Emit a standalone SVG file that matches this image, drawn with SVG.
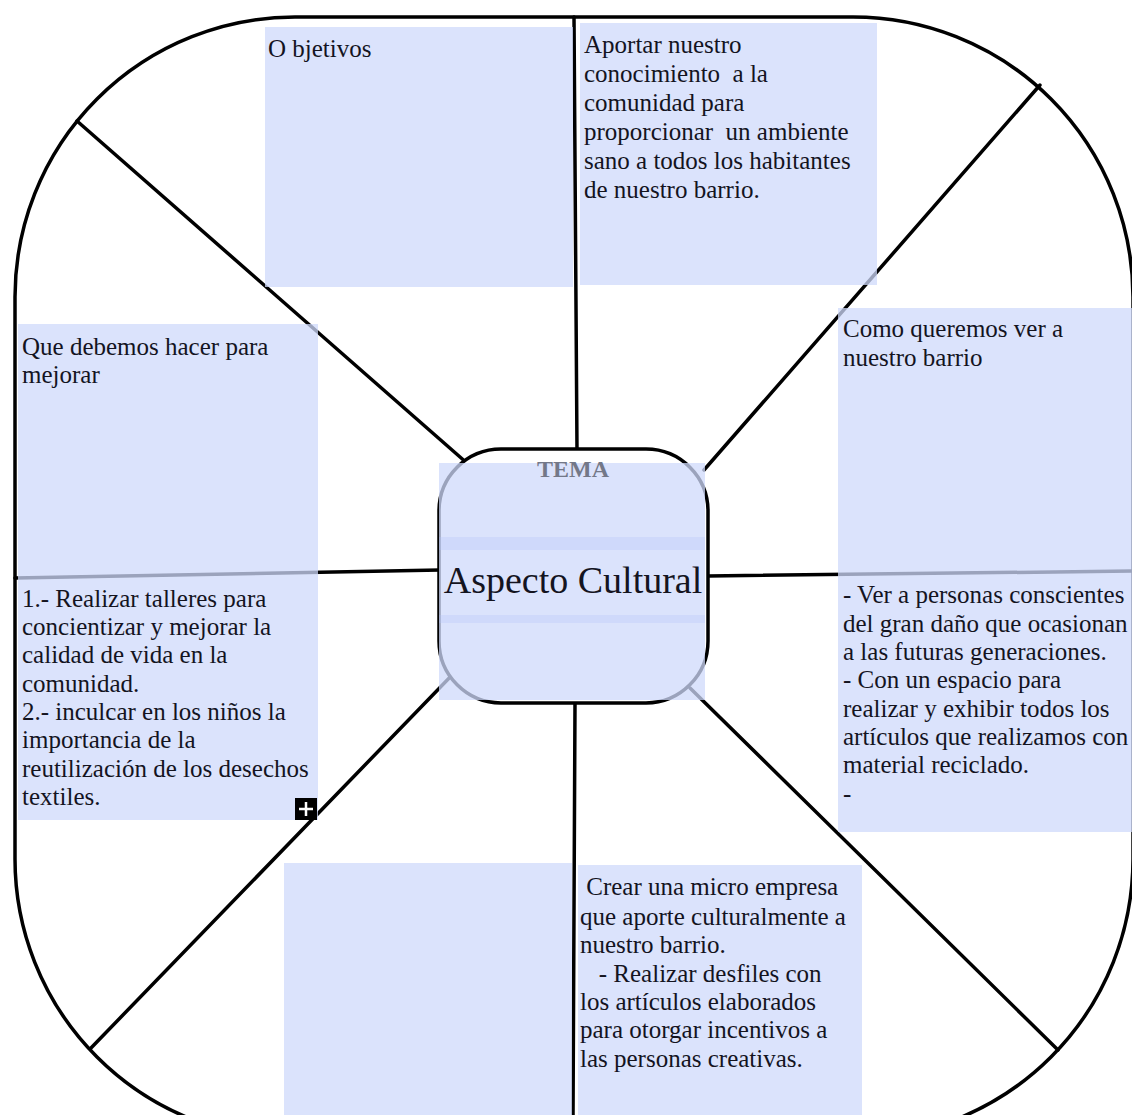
<svg xmlns="http://www.w3.org/2000/svg" width="1132" height="1115" viewBox="0 0 1132 1115">
<style>
.frame{fill:none;stroke:#000;stroke-width:3.5}
.spoke{stroke:#000;stroke-width:3.5;stroke-linecap:round;fill:none}
.box{fill:rgb(207,218,251);fill-opacity:0.75}
.t{font-family:"Liberation Serif","Times New Roman",serif;font-size:25px;fill:#14141f}
.band{fill:rgb(180,196,248);fill-opacity:0.3}
</style>
<rect width="1132" height="1115" fill="#fff"/>
<g id="frame">
<rect class="frame" x="15" y="17" width="1118" height="1122" rx="280" ry="280"/>
</g>
<g id="connectors">
<line class="spoke" x1="574" y1="17" x2="577" y2="450"/>
<line class="spoke" x1="575" y1="703" x2="573" y2="1120"/>
<line class="spoke" x1="15" y1="578" x2="440" y2="570"/>
<line class="spoke" x1="708" y1="576" x2="1133" y2="571"/>
<line class="spoke" x1="77" y1="121" x2="468" y2="464"/>
<line class="spoke" x1="1040" y1="85" x2="704" y2="470"/>
<line class="spoke" x1="91" y1="1048" x2="455" y2="672"/>
<line class="spoke" x1="1058" y1="1050" x2="690" y2="688"/>
</g>
<g id="node-center">
<rect x="439" y="449" width="269" height="254" rx="62" ry="62" fill="#fff" stroke="#000" stroke-width="3.5"/>
<rect class="box" x="439" y="463" width="266" height="237"/>
<rect class="band" x="439" y="537" width="266" height="13"/>
<rect class="band" x="439" y="615" width="266" height="8"/>
<text x="573" y="477" text-anchor="middle" style="font-family:'Liberation Serif',serif;font-size:24px;font-weight:bold;fill:#737888">TEMA</text>
<text x="573" y="593" text-anchor="middle" style="font-family:'Liberation Serif',serif;font-size:38px;fill:#14141f">Aspecto Cultural</text>
</g>
<g id="node-objetivos">
<rect class="box" x="265" y="27" width="308" height="260"/>
<text class="t" x="268" y="57">O bjetivos</text>
</g>
<g id="node-objetivos-text">
<rect class="box" x="580" y="23" width="297" height="262"/>
<text class="t" xml:space="preserve"><tspan x="584" y="53">Aportar nuestro</tspan><tspan x="584" y="82">conocimiento  a la</tspan><tspan x="584" y="111">comunidad para</tspan><tspan x="584" y="140">proporcionar  un ambiente</tspan><tspan x="584" y="169">sano a todos los habitantes</tspan><tspan x="584" y="198">de nuestro barrio.</tspan></text>
</g>
<g id="node-mejorar">
<rect class="box" x="18" y="324" width="300" height="496"/>
<text class="t"><tspan x="22" y="355">Que debemos hacer para</tspan><tspan x="22" y="383">mejorar</tspan></text>
<text class="t"><tspan x="22" y="607">1.- Realizar talleres para</tspan><tspan x="22" y="635">concientizar y mejorar la</tspan><tspan x="22" y="663">calidad de vida en la</tspan><tspan x="22" y="692">comunidad.</tspan><tspan x="22" y="720">2.- inculcar en los niños la</tspan><tspan x="22" y="748">importancia de la</tspan><tspan x="22" y="777">reutilización de los desechos</tspan><tspan x="22" y="805">textiles.</tspan></text>
<rect x="295" y="798" width="22" height="22" fill="#000"/>
<path d="M306 802v14M299 809h14" stroke="#fff" stroke-width="2.5"/>
</g>
<g id="node-ver-barrio">
<rect class="box" x="838" y="308" width="295" height="524"/>
<text class="t"><tspan x="843" y="337">Como queremos ver a</tspan><tspan x="843" y="366">nuestro barrio</tspan></text>
<text class="t"><tspan x="843" y="603">- Ver a personas conscientes</tspan><tspan x="843" y="632">del gran daño que ocasionan</tspan><tspan x="843" y="660">a las futuras generaciones.</tspan><tspan x="843" y="688">- Con un espacio para</tspan><tspan x="843" y="717">realizar y exhibir todos los</tspan><tspan x="843" y="745">artículos que realizamos con</tspan><tspan x="843" y="773">material reciclado.</tspan><tspan x="843" y="802">-</tspan></text>
</g>
<g id="node-empty">
<rect class="box" x="284" y="863" width="288" height="260"/>
</g>
<g id="node-empresa">
<rect class="box" x="578" y="865" width="284" height="260"/>
<text class="t" xml:space="preserve"><tspan x="580" y="895"> Crear una micro empresa</tspan><tspan x="580" y="925">que aporte culturalmente a</tspan><tspan x="580" y="953">nuestro barrio.</tspan><tspan x="580" y="982">   - Realizar desfiles con</tspan><tspan x="580" y="1010">los artículos elaborados</tspan><tspan x="580" y="1038">para otorgar incentivos a</tspan><tspan x="580" y="1067">las personas creativas.</tspan></text>
</g>
</svg>
